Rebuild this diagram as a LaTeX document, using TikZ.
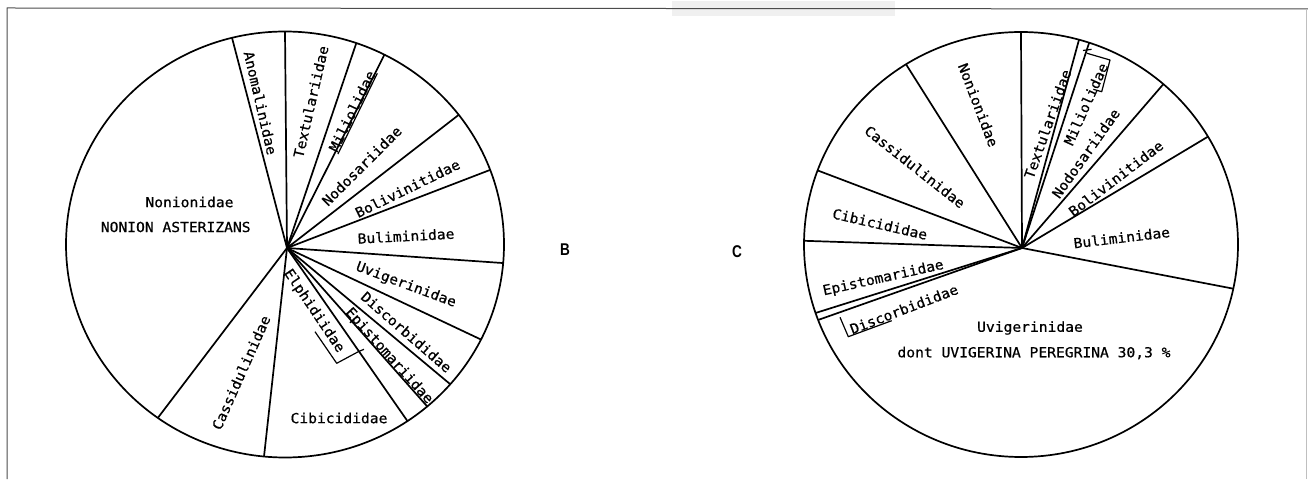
\documentclass[tikz,border=0pt]{standalone}
\usepackage{fontspec}
\newfontfamily\plotfont[FakeStretch=1.06,FakeBold=0.6]{DejaVu Sans Mono}
\newfontfamily\tagfont[FakeStretch=0.8]{Liberation Sans}
\usetikzlibrary{calc}

\begin{document}
\begin{tikzpicture}[x=1pt, y=1pt, line width=1.7pt, line join=round,
	every node/.style={font=\plotfont\fontsize{13.8}{14}\selectfont, inner sep=0pt},
	tag/.style={font=\tagfont\bfseries\fontsize{17}{17}\selectfont},
	pen/.style={line width=1.2pt}]
	\useasboundingbox (0,0) rectangle (1308,479);
	\fill[gray!12] (672,463) rectangle (895,478);
	\draw[gray!60!black, line width=1pt] (7,0) -- (7,471) -- (1308,470);
	\draw[gray!50, line width=1pt] (1306,0) -- (1306,470);
	% B
	\coordinate (oB) at (285,234.5);
	\coordinate (cB) at (287,231);
	\draw (oB) ellipse [x radius=219, y radius=213];
	\foreach \a in {104,90,71,63,37.5,20.5,-5,-26.5,-41,-49.5,-56,-95.5,-125.5}
		\draw (cB) -- ($(oB)+(\a:219 and 213)$);
	\node (nonB) at (189.5,277) {Nonionidae};
	\node (nonaB) at (175.7,252) {NONION ASTERIZANS};
	\node[rotate=-77] (anoB) at (260.5,376) {Anomalinidae};
	\node[rotate=77] (texB) at (310.8,377.3) {Textulariidae};
	\node[rotate=64] (milB) at (352,368) {Miliolidae};
	\draw[pen] (milB.south west) -- (milB.south east);
	\node[rotate=45] (nodB) at (361.7,313.2) {Nodosariidae};
	\node[rotate=26] (bolB) at (407.5,290.7) {Bolivinitidae};
	\node[rotate=3] (bulB) at (406,243) {Buliminidae};
	\node[rotate=-20.5] (uviB) at (406,194) {Uvigerinidae};
	\node[rotate=-41] (disB) at (406.5,147) {Discorbididae};
	\node[rotate=-48] (epiB) at (389,123) {Epistomariidae};
	\node[rotate=-56] (elpB) at (314,168) {Elphidiidae};
	\node (cibB) at (339,61) {Cibicididae};
	\node[rotate=66] (casB) at (241,106.5) {Cassidulinidae};
	\draw[pen] (315,147.3) -- (336.7,115.7) -- (358.3,127.3) -- (364,129.7);
	\node[tag] (tagB) at (565,229) {B};
	% C
	\coordinate (oC) at (1021,234.5);
	\coordinate (cC) at (1022,231);
	\draw (oC) ellipse [x radius=217, y radius=212.5];
	\foreach \a in {90,74.5,71.7,49,30.5,-12,-159.2,-161.2,179,159.6,122}
		\draw (cC) -- ($(oC)+(\a:217 and 212.5)$);
	\node[rotate=-69] (nonC) at (978.3,374) {Nonionidae};
	\node[rotate=70.5] (texC) at (1047.5,355) {Textulariidae};
	\node[rotate=66] (milC) at (1085.8,375) {Miliolidae};
	\node[rotate=54.6] (nodC) at (1085.8,325.7) {Nodosariidae};
	\node[rotate=37.4] (bolC) at (1115.8,300.7) {Bolivinitidae};
	\node[rotate=6.8] (bulC) at (1121.7,241.5) {Buliminidae};
	\node (uviC) at (1030,151) {Uvigerinidae};
	\node (uvpC) at (1034,126) {dont UVIGERINA PEREGRINA 30,3 \%};
	\node[rotate=21] (disC) at (904,170) {Discorbididae};
	\node[rotate=12.5] (epiC) at (883.3,200.7) {Epistomariidae};
	\node[rotate=-13] (cibC) at (880,255) {Cibicididae};
	\node[rotate=-38.3] (casC) at (915,312.3) {Cassidulinidae};
	\draw[pen] (1083,428.5) -- (1091.5,429.7);
	\draw[pen] (1087,425.7) -- (1110,419) -- (1101.7,387.3) -- (1093.3,389.7);
	\draw[pen] (840,161.7) -- (848.3,142.3) -- (891.7,158.3);
	\node[tag] (tagC) at (737,227) {C};
\end{tikzpicture}
\end{document}
